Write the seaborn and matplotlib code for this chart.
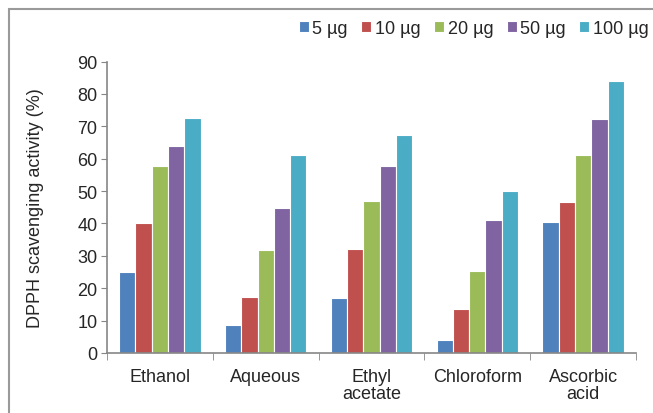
import matplotlib
matplotlib.use("Agg")
import matplotlib.pyplot as plt
import seaborn as sns
import pandas as pd
import numpy as np
from matplotlib.patches import Rectangle

categories = ["Ethanol", "Aqueous", "Ethyl\nacetate", "Chloroform", "Ascorbic\nacid"]
doses = ["5 µg", "10 µg", "20 µg", "50 µg", "100 µg"]
v5 = [24.9, 8.6, 17.0, 4.1, 40.5]
v10 = [40.0, 17.2, 32.0, 13.6, 46.5]
v20 = [57.6, 31.7, 46.9, 25.3, 61.0]
v50 = [64.0, 44.7, 57.6, 41.0, 72.4]
v100 = [72.7, 61.2, 67.3, 50.1, 83.9]
colors = ["#4F81BD", "#C0504D", "#9BBB59", "#8064A2", "#4BACC6"]

rows = []
for dose, vals in zip(doses, [v5, v10, v20, v50, v100]):
    for c, v in zip(categories, vals):
        rows.append({"Extract": c, "Dose": dose, "Value": v})
df = pd.DataFrame(rows)

sns.set_style("white")
plt.rcParams['font.family'] = ['Liberation Sans', 'DejaVu Sans']

fig = plt.figure(figsize=(6.53, 4.14), dpi=100)
ax = fig.add_axes([107/653, 1-354/414, (636-107)/653, (354-62.5)/414])

sns.barplot(data=df, x="Extract", y="Value", hue="Dose", hue_order=doses,
            order=categories, palette=colors, ax=ax, width=0.77,
            edgecolor="white", linewidth=0.8, saturation=1)

ax.set_ylim(0, 90)
ax.set_xlim(-0.5, 4.5)
ax.set_yticks(np.arange(0, 91, 10))
ax.set_ylabel("DPPH scavenging activity (%)", fontsize=13, labelpad=24)
ax.set_xlabel("")
ax.tick_params(axis='y', labelsize=13, length=4, color="#868686", direction='out', left=True, pad=3)
ax.tick_params(axis='x', which='major', labelsize=13, length=0, pad=11)
for lab in ax.get_xticklabels():
    lab.set_linespacing(1.0)
ax.set_xticks(np.arange(-0.5, 4.6, 1.0), minor=True)
ax.tick_params(axis='x', which='minor', length=5, color="#868686", bottom=True, direction='out')
for s in ["top", "right"]:
    ax.spines[s].set_visible(False)
for s in ["left", "bottom"]:
    ax.spines[s].set_color("#868686")
    ax.spines[s].set_linewidth(1.2)

leg = ax.legend(loc="upper right", bbox_to_anchor=(656/653, 1-14/414), bbox_transform=fig.transFigure,
                ncol=5, frameon=False, fontsize=13, handlelength=0.55, handleheight=0.55,
                handletextpad=0.2, columnspacing=0.75, borderaxespad=0)

fig.patches.append(Rectangle((9/653, -0.1), 1.2, 1.1 - 10/414, transform=fig.transFigure,
                             fill=False, edgecolor="#9a9a9a", linewidth=1.5))

fig.savefig("out.png", dpi=100)
